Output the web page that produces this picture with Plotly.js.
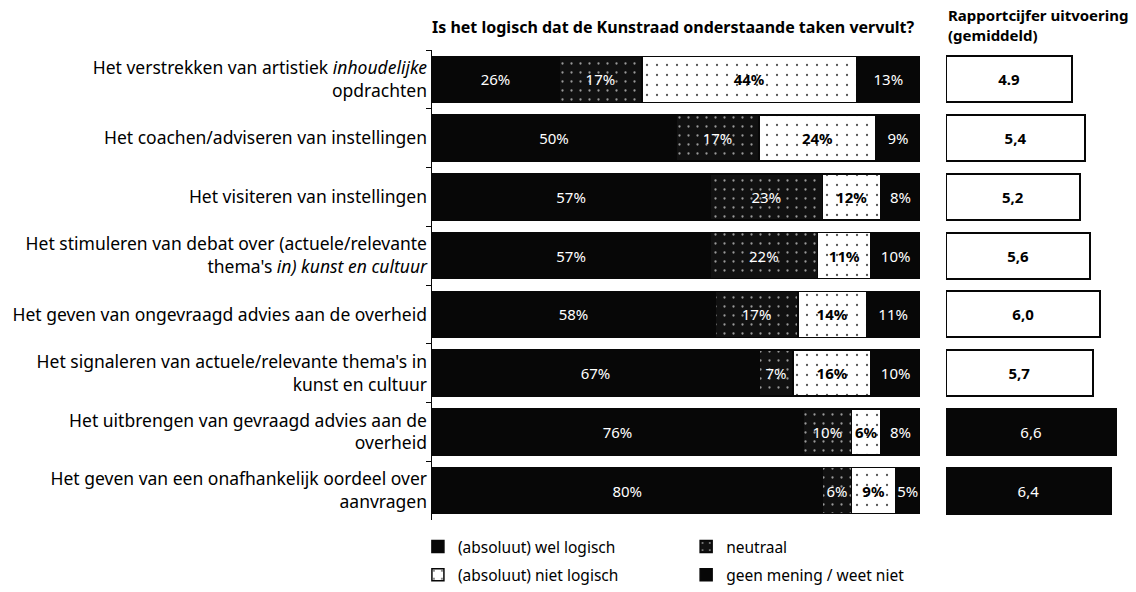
<!DOCTYPE html>
<html>
<head>
<meta charset="utf-8">
<script src="https://cdn.plot.ly/plotly-3.0.1.min.js"></script>
<style>html,body{margin:0;padding:0;background:#fff;}#chart{width:1136px;height:592px;}</style>
</head>
<body>
<div id="chart"></div>
<script>
const categories = [
  "Het verstrekken van artistiek <i>inhoudelijke</i><br>opdrachten",
  "Het coachen/adviseren van instellingen",
  "Het visiteren van instellingen",
  "Het stimuleren van debat over (actuele/relevante<br>thema's <i>in) kunst en cultuur</i>",
  "Het geven van ongevraagd advies aan de overheid",
  "Het signaleren van actuele/relevante thema's in<br>kunst en cultuur",
  "Het uitbrengen van gevraagd advies aan de<br>overheid",
  "Het geven van een onafhankelijk oordeel over<br>aanvragen"
];
const welLogisch  = [26, 50, 57, 57, 58, 67, 76, 80];
const neutraal    = [17, 17, 23, 22, 17, 7, 10, 6];
const nietLogisch = [44, 24, 12, 11, 14, 16, 6, 9];
const geenMening  = [13, 9, 8, 10, 11, 10, 8, 5];
const rapportcijfer = [4.9, 5.4, 5.2, 5.6, 6.0, 5.7, 6.6, 6.4];
const rapportLabels = ["4.9", "5,4", "5,2", "5,6", "6,0", "5,7", "6,6", "6,4"];
const seriesNames = ["(absoluut) wel logisch", "neutraal", "(absoluut) niet logisch", "geen mening / weet niet"];
const titleLeft = "Is het logisch dat de Kunstraad onderstaande taken vervult?";
const titleRight = "Rapportcijfer uitvoering<br>(gemiddeld)";

const FONT = "Noto Sans, sans-serif";
const BLACK = "#070707";

function pctTrace(vals, name, opts) {
  return Object.assign({
    type: "bar", orientation: "h", x: vals, y: categories, name: name,
    xaxis: "x", yaxis: "y",
    texttemplate: "%{x}%", textposition: "inside", insidetextanchor: "middle",
    textangle: 0, constraintext: "none", hoverinfo: "skip",
    legendgroup: name
  }, opts);
}

const traces = [
  pctTrace(welLogisch, seriesNames[0], {
    marker: {color: BLACK, line: {color: BLACK, width: 1.5}},
    textfont: {color: "#ffffff", size: 15, family: FONT}, legend: "legend"
  }),
  pctTrace(neutraal, seriesNames[1], {
    marker: {color: "#111111", line: {color: BLACK, width: 1.5},
             pattern: {shape: ".", bgcolor: "#111111", fgcolor: "#9a9a9a", size: 9, solidity: 0.05}},
    textfont: {color: "#ffffff", size: 15, family: FONT}, legend: "legend2"
  }),
  pctTrace(nietLogisch, seriesNames[2], {
    marker: {color: "#ffffff", line: {color: BLACK, width: 1.5},
             pattern: {shape: ".", bgcolor: "#ffffff", fgcolor: "#555555", size: 10, solidity: 0.04}},
    textfont: {color: "#000000", size: 15, family: FONT, weight: "bold"}, legend: "legend"
  }),
  pctTrace(geenMening, seriesNames[3], {
    marker: {color: BLACK, line: {color: BLACK, width: 1.5}},
    textfont: {color: "#ffffff", size: 15, family: FONT}, legend: "legend2"
  }),
  {
    type: "bar", orientation: "h", x: rapportcijfer, y: categories,
    xaxis: "x2", yaxis: "y2", showlegend: false, hoverinfo: "skip",
    text: rapportLabels, textposition: "inside", insidetextanchor: "middle",
    textangle: 0, constraintext: "none",
    marker: {
      color: rapportcijfer.map((v, i) => i >= 6 ? BLACK : "#ffffff"),
      line: {color: BLACK, width: 2},
      pattern: {
        shape: rapportcijfer.map((v, i) => i < 3 ? "." : ""),
        fgcolor: "#555555", size: 10, solidity: 0.04
      }
    },
    textfont: {
      color: rapportcijfer.map((v, i) => i >= 6 ? "#ffffff" : "#000000"),
      weight: rapportcijfer.map((v, i) => i >= 6 ? "normal" : "bold"),
      size: 15, family: FONT
    }
  }
];

const layout = {
  width: 1136, height: 592,
  margin: {l: 432, r: 0, t: 50, b: 65},
  paper_bgcolor: "#ffffff", plot_bgcolor: "#ffffff",
  font: {family: FONT, color: "#000000", size: 15},
  barmode: "stack", bargap: 0.22,
  title: {
    text: "<b>" + titleLeft + "</b>", xref: "paper", x: 0, xanchor: "left",
    yref: "container", y: 0.953, yanchor: "middle",
    font: {family: FONT, size: 16, color: "#000000"}
  },
  xaxis: {domain: [0, 0.6932], range: [0, 100], visible: false, fixedrange: true},
  xaxis2: {domain: [0.7301, 1], range: [0, 7.38], visible: false, anchor: "y2"},
  yaxis: {
    type: "category", autorange: "reversed", showline: true, linecolor: BLACK, linewidth: 1.5,
    ticks: "outside", tickson: "boundaries", ticklen: 5, tickcolor: BLACK,
    showgrid: false, zeroline: false, tickfont: {family: FONT, size: 17.5, color: "#000000"}
  },
  yaxis2: {type: "category", autorange: "reversed", anchor: "x2", visible: false, matches: "y"},
  legend: {
    x: -0.02, y: -0.022, xanchor: "left", yanchor: "top", orientation: "v",
    traceorder: "grouped", tracegroupgap: 5, font: {family: FONT, size: 15.5, color: "#000000"},
    bgcolor: "rgba(0,0,0,0)"
  },
  legend2: {
    x: 0.361, y: -0.022, xanchor: "left", yanchor: "top", orientation: "v",
    traceorder: "grouped", tracegroupgap: 5, font: {family: FONT, size: 15.5, color: "#000000"},
    bgcolor: "rgba(0,0,0,0)"
  },
  annotations: [{
    text: "<b>" + titleRight + "</b>", xref: "paper", yref: "paper",
    x: 0.7301, y: 1, xanchor: "left", yanchor: "bottom", yshift: 3, align: "left",
    showarrow: false, font: {family: FONT, size: 15, color: "#000000"}
  }]
};

Plotly.newPlot("chart", traces, layout, {displayModeBar: false, staticPlot: true});
</script>
</body>
</html>
